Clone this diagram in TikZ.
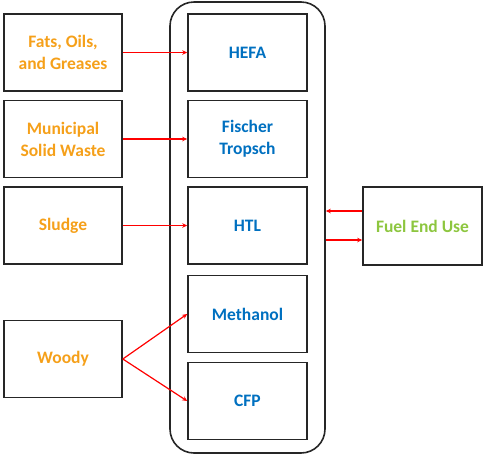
\documentclass[tikz,border=0pt]{standalone}
\usepackage{fontspec}
\setmainfont{Carlito}
\usetikzlibrary{arrows.meta}
\definecolor{feedorange}{HTML}{F5A01A}
\definecolor{procblue}{HTML}{0070C0}
\definecolor{usegreen}{HTML}{8DC63F}
\definecolor{boxline}{HTML}{262626}
\tikzset{
  basebox/.style={draw=boxline, line width=1.6pt, inner sep=0pt, align=center, font=\fontsize{17.5}{22}\selectfont\bfseries},
  feedbox/.style={basebox, minimum width=118pt, minimum height=77pt, text=feedorange},
  procbox/.style={basebox, minimum width=119pt, minimum height=77pt, text=procblue},
  usebox/.style={basebox, minimum width=119pt, minimum height=78pt, text=usegreen},
  container/.style={draw=boxline, line width=1.6pt, rounded corners=24pt, inner sep=0pt},
  flow/.style={draw=red, line width=1.2pt, -{Stealth[length=5pt,width=4.5pt]}}
}
\begin{document}
\begin{tikzpicture}[x=1pt,y=-1pt]
\useasboundingbox (0,0) rectangle (484,456);
% container
\node[container, minimum width=155pt, minimum height=451pt] (cont) at (247.5,227.5) {};
% feedstocks
\node[feedbox] (fog) at (63,52.5) {Fats, Oils,\\and Greases};
\node[feedbox] (msw) at (63,139) {Municipal\\Solid Waste};
\node[feedbox] (sludge) at (63,225.5) {Sludge};
\node[feedbox] (woody) at (63,359) {Woody};
% processes
\node[procbox] (hefa) at (247.5,52.5) {HEFA};
\node[procbox] (ft) at (247.5,139) {Fischer\\Tropsch};
\node[procbox] (htl) at (247.5,225.5) {HTL};
\node[procbox] (meth) at (247.5,314) {Methanol};
\node[procbox] (cfp) at (247.5,401) {CFP};
% end use
\node[usebox] (fuel) at (422.5,226) {Fuel End Use};
% arrows
\draw[flow] (fog.east) -- (hefa.west);
\draw[flow] (msw.east) -- (ft.west);
\draw[flow] (sludge.east) -- (htl.west);
\draw[flow] (woody.east) -- (meth.west);
\draw[flow] (woody.east) -- (cfp.west);
\draw[flow] (fuel.west |- 0,211) -- (cont.east |- 0,211);
\draw[flow] (cont.east |- 0,240) -- (fuel.west |- 0,240);
\end{tikzpicture}
\end{document}
